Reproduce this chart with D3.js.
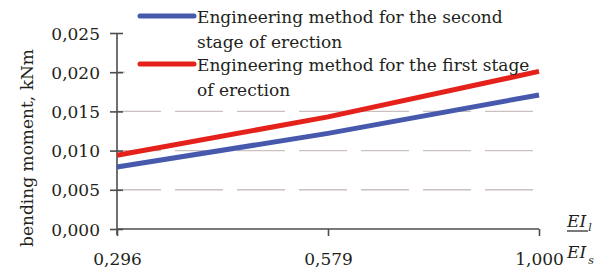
<!DOCTYPE html>
<html>
<head>
<meta charset="utf-8">
<script src="https://cdn.jsdelivr.net/npm/d3@7"></script>
<style>
  body { margin: 0; background: #fff; }
  .axis path, .axis line { stroke: #4d4d4d; stroke-width: 1.6; }
  .grid line { stroke: #cbbfbf; stroke-width: 1.4; stroke-dasharray: 48 14; stroke-dashoffset: 4; }
</style>
</head>
<body>
<svg id="chart" width="602" height="277"></svg>
<script>
// 横轴类别 (EI_l / EI_s)
const categories = ['0,296', '0,579', '1,000'];
// 第二阶段
const secondStage = [0.0079, 0.0122, 0.0171];
// 第一阶段
const firstStage = [0.0094, 0.0143, 0.0201];
const yTicks = [0, 0.005, 0.01, 0.015, 0.02, 0.025];
const gridValues = [0.005, 0.01, 0.015, 0.02];
const seriesNames = [
  ['Engineering method for the second', 'stage of erection'],
  ['Engineering method for the first stage', 'of erection']
];

const FONT = 'DejaVu Serif';
const FS = 17;
const margin = { top: 33, left: 117, right: 63, bottom: 48 };
const width = 602, height = 277;

const svg = d3.select('#chart').attr('font-family', FONT);

const scaleX = d3.scalePoint()
  .domain(categories)
  .range([margin.left, width - margin.right]);

const scaleY = d3.scaleLinear()
  .domain([0, 0.025])
  .range([height - margin.bottom, margin.top]);

const fmt = d => d3.format('.3f')(d).replace('.', ',');

// 辅助线
svg.append('g')
  .attr('class', 'grid')
  .selectAll('line')
  .data(gridValues)
  .join('line')
  .attr('x1', margin.left)
  .attr('x2', 533)
  .attr('y1', d => scaleY(d))
  .attr('y2', d => scaleY(d));

// 图例背景
svg.append('rect')
  .attr('x', 125).attr('y', 0)
  .attr('width', 440).attr('height', 102)
  .attr('fill', '#fff');

// 左数轴
const leftG = svg.append('g')
  .attr('class', 'axis')
  .attr('transform', `translate(${margin.left},0)`)
  .call(d3.axisLeft(scaleY)
    .tickValues(yTicks)
    .tickFormat(fmt)
    .tickSizeInner(7)
    .tickSizeOuter(0)
    .tickPadding(10))
  .attr('font-family', FONT);
leftG.selectAll('.tick line').attr('x2', 6).attr('x1', -7);
leftG.selectAll('.tick text')
  .attr('font-size', FS)
  .attr('dy', '0.36em')
  .attr('fill', '#231f20');
leftG.select('.domain').attr('d', `M0,${scaleY(0.025)}V${scaleY(0) + 6}`);

// 底部数轴
const bottomG = svg.append('g')
  .attr('class', 'axis')
  .attr('transform', `translate(0,${scaleY(0)})`)
  .call(d3.axisBottom(scaleX)
    .tickSizeInner(7)
    .tickSizeOuter(0)
    .tickPadding(17))
  .attr('font-family', FONT);
bottomG.selectAll('.tick text').attr('font-size', FS).attr('fill', '#231f20');
bottomG.select('.domain').attr('d', `M${margin.left},0H${width - margin.right}`);

// 折线
const line = d3.line()
  .x((d, i) => scaleX(categories[i]))
  .y(d => scaleY(d));

const colors = ['#4659ad', '#e4221b'];

[secondStage, firstStage].forEach((s, k) => {
  svg.append('path')
    .attr('d', line(s))
    .attr('fill', 'none')
    .attr('stroke', colors[k])
    .attr('stroke-width', 5)
    .attr('stroke-linejoin', 'round');
});

// 图例
const legend = svg.append('g').attr('fill', '#231f20');
seriesNames.forEach((lines, k) => {
  const y0 = 16 + k * 48;
  legend.append('line')
    .attr('x1', 140).attr('x2', 194)
    .attr('y1', y0).attr('y2', y0)
    .attr('stroke', colors[k])
    .attr('stroke-width', 5)
    .attr('stroke-linecap', 'round');
  lines.forEach((t, j) => {
    legend.append('text')
      .attr('x', 197)
      .attr('y', 23 + k * 48 + j * 25)
      .attr('font-size', FS)
      .text(t);
  });
});

// 纵轴标题
svg.append('text')
  .attr('transform', 'translate(33,148) rotate(-90)')
  .attr('text-anchor', 'middle')
  .attr('font-size', FS)
  .attr('fill', '#231f20')
  .text('bending moment, kNm');

// 横轴标题 EI_l / EI_s
const xt = svg.append('g').attr('font-style', 'italic').attr('fill', '#231f20');
const t1 = xt.append('text').attr('x', 567).attr('y', 227).attr('font-size', FS);
t1.append('tspan').text('EI');
t1.append('tspan').attr('font-size', 11).attr('dy', 4).attr('dx', 2).text('l');
xt.append('line')
  .attr('x1', 567).attr('x2', 588)
  .attr('y1', 231).attr('y2', 231)
  .attr('stroke', '#231f20').attr('stroke-width', 1.2);
const t2 = xt.append('text').attr('x', 567).attr('y', 258).attr('font-size', FS);
t2.append('tspan').text('EI');
t2.append('tspan').attr('font-size', 11).attr('dy', 6).attr('dx', 2).text('s');
</script>
</body>
</html>
